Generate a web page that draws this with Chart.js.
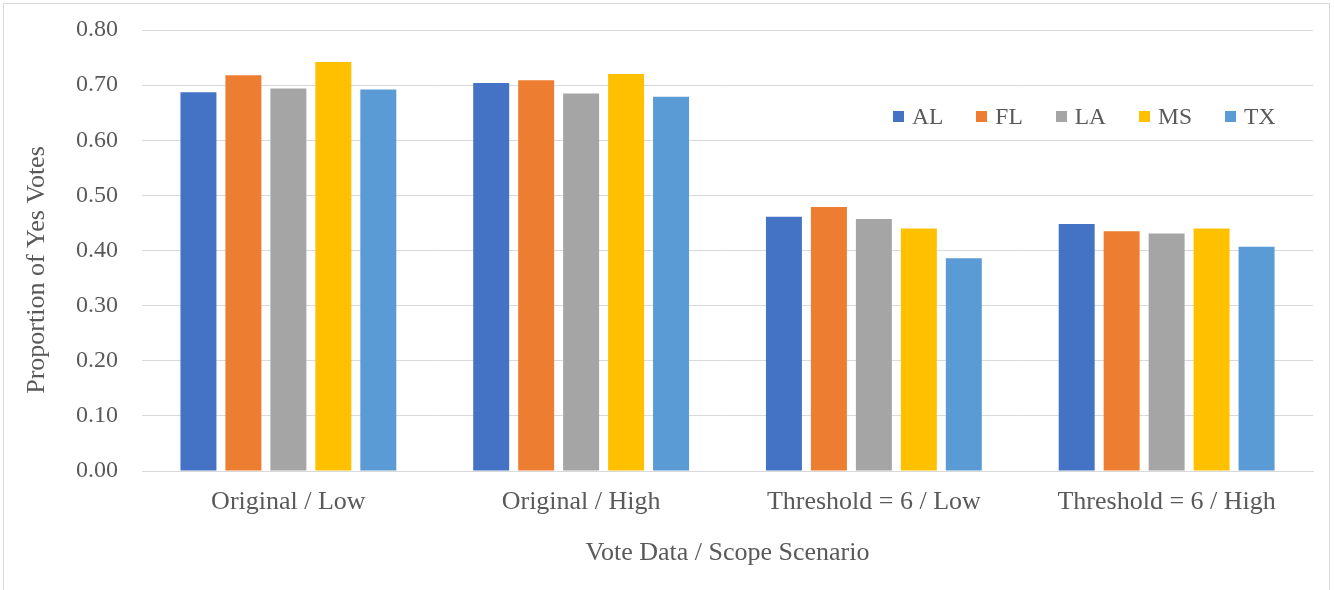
<!DOCTYPE html>
<html>
<head>
<meta charset="utf-8">
<script src="https://cdn.jsdelivr.net/npm/chart.js@4/dist/chart.umd.min.js"></script>
<style>
  body{margin:0;background:#fff;}
  #wrap{position:relative;width:1334px;height:590px;}
  #frame{position:absolute;left:3px;top:3px;width:1327px;height:590px;border:1px solid #d9d9d9;box-sizing:border-box;border-bottom:none;}
  #legend{position:absolute;top:102px;left:893px;font-family:"Liberation Serif","Times New Roman",serif;font-size:23.5px;color:#595959;display:flex;line-height:28px;}
  #legend .item{display:flex;align-items:center;margin-right:33px;}
  #legend .sw{width:11px;height:11px;margin-right:8px;}
</style>
</head>
<body>
<div id="wrap">
  <div id="frame"></div>
  <canvas id="chart" width="1334" height="590"></canvas>
  <div id="legend"></div>
</div>
<script>
// ======= Data =======
const categories = ['Original / Low', 'Original / High', 'Threshold = 6 / Low', 'Threshold = 6 / High'];
const states = ['AL', 'FL', 'LA', 'MS', 'TX'];
const alVals = [0.687, 0.704, 0.461, 0.448];
const flVals = [0.718, 0.709, 0.479, 0.435];
const laVals = [0.694, 0.685, 0.457, 0.431];
const msVals = [0.742, 0.720, 0.440, 0.440];
const txVals = [0.692, 0.679, 0.386, 0.407];
const colors = ['#4472C4', '#ED7D31', '#A5A5A5', '#FFC000', '#5B9BD5'];
const yTitle = 'Proportion of Yes Votes';

const textColor = '#595959';
const serif = '"Liberation Serif","Times New Roman",serif';

const seriesVals = [alVals, flVals, laVals, msVals, txVals];
const datasets = states.map((s, i) => ({
  label: s,
  data: seriesVals[i],
  backgroundColor: colors[i],
  categoryPercentage: 0.768,
  barPercentage: 0.8
}));

// legend (inside plot, top right)
const lg = document.getElementById('legend');
states.forEach((s, i) => {
  const it = document.createElement('div'); it.className = 'item';
  it.innerHTML = `<span class="sw" style="background:${colors[i]}"></span><span>${s}</span>`;
  lg.appendChild(it);
});

// y title sits a bit below the axis middle in the original
const yTitlePlugin = {
  id: 'yTitle',
  afterDraw(chart){
    const ctx = chart.ctx;
    ctx.save();
    ctx.translate(37, 270);
    ctx.rotate(-Math.PI/2);
    ctx.font = '26px ' + serif;
    ctx.fillStyle = textColor;
    ctx.textAlign = 'center';
    ctx.textBaseline = 'middle';
    ctx.fillText(yTitle, 0, 0);
    ctx.restore();
  }
};

new Chart(document.getElementById('chart'), {
  type: 'bar',
  data: { labels: categories, datasets },
  plugins: [yTitlePlugin],
  options: {
    responsive: false,
    animation: false,
    layout: { padding: { top: 30, right: 21, bottom: 21, left: 0 } },
    plugins: { legend: { display: false }, tooltip: { enabled: false } },
    scales: {
      x: {
        grid: { display: false, drawTicks: false },
        border: { color: '#d9d9d9', width: 1 },
        ticks: { color: textColor, font: { family: serif, size: 26 }, padding: 16, maxRotation: 0 },
        title: { display: true, text: 'Vote Data / Scope Scenario', color: textColor,
                 font: { family: serif, size: 26 }, padding: { top: 4, bottom: 0 } },
        afterFit: (a) => { a.height = 98; }
      },
      y: {
        min: 0, max: 0.8,
        grid: { color: '#d9d9d9', lineWidth: 1, drawTicks: false },
        border: { display: false },
        ticks: { stepSize: 0.1, color: textColor, font: { family: serif, size: 24 }, padding: 24,
                 callback: v => v.toFixed(2) },
        afterFit: (a) => { a.width = 142; a.paddingTop = 0; a.paddingBottom = 0; }
      }
    }
  }
});
</script>
</body>
</html>
